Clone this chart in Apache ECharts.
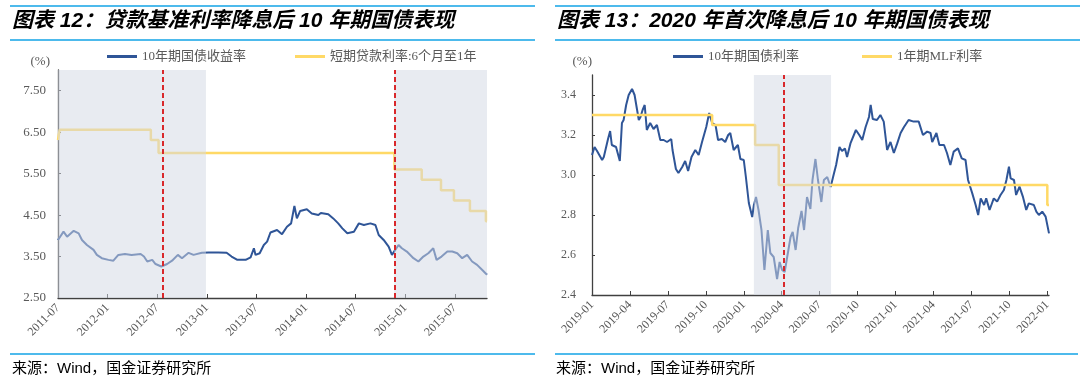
<!DOCTYPE html>
<html>
<head>
<meta charset="utf-8">
<script src="https://cdn.jsdelivr.net/npm/echarts@6/dist/echarts.min.js"></script>
<style>
  html, body { margin: 0; padding: 0; background: #fff; }
  #main { width: 1080px; height: 376px; }
</style>
</head>
<body>
<div id="main"></div>
<script>
// ==================== 数据：图表12 ====================
const leftTickLabels = ['2011-07', '2012-01', '2012-07', '2013-01', '2013-07', '2014-01', '2014-07', '2015-01', '2015-07']
const leftBondDates = [
  '2011-07-01', '2011-07-21', '2011-08-04', '2011-08-28', '2011-09-16', '2011-09-28', '2011-10-16', '2011-11-10', '2011-11-22', '2011-12-10',
  '2012-01-04', '2012-01-22', '2012-02-10', '2012-03-04', '2012-03-28', '2012-05-01', '2012-05-13', '2012-05-25', '2012-06-13', '2012-06-25',
  '2012-07-16', '2012-08-07', '2012-08-25', '2012-09-16', '2012-10-01', '2012-10-25', '2012-11-13', '2012-12-13', '2013-01-07', '2013-02-13',
  '2013-03-13', '2013-04-01', '2013-04-22', '2013-05-22', '2013-06-10', '2013-06-22', '2013-06-28', '2013-07-13', '2013-07-28', '2013-08-10',
  '2013-08-22', '2013-09-16', '2013-10-04', '2013-10-22', '2013-11-07', '2013-11-19', '2013-11-28', '2013-12-10', '2014-01-04', '2014-01-22',
  '2014-02-16', '2014-02-25', '2014-03-22', '2014-04-10', '2014-04-28', '2014-05-13', '2014-06-01', '2014-06-25', '2014-07-13', '2014-08-01',
  '2014-08-25', '2014-09-13', '2014-09-25', '2014-10-13', '2014-11-01', '2014-11-13', '2014-11-25', '2014-12-07', '2014-12-19', '2015-01-07',
  '2015-02-01', '2015-02-19', '2015-03-07', '2015-03-25', '2015-04-13', '2015-04-25', '2015-05-13', '2015-06-04', '2015-06-22', '2015-07-10',
  '2015-07-28', '2015-08-16', '2015-09-04', '2015-09-22', '2015-10-10', '2015-10-28',
]
const leftBondYield = [
  3.90, 4.10, 3.98, 4.12, 4.06, 3.90, 3.78, 3.66, 3.54, 3.46,
  3.42, 3.40, 3.54, 3.56, 3.54, 3.56, 3.50, 3.38, 3.42, 3.32,
  3.26, 3.32, 3.40, 3.54, 3.46, 3.59, 3.54, 3.59, 3.60, 3.60,
  3.59, 3.50, 3.42, 3.42, 3.48, 3.70, 3.54, 3.58, 3.78, 3.86,
  4.08, 4.14, 4.04, 4.22, 4.30, 4.72, 4.42, 4.60, 4.64, 4.54,
  4.50, 4.55, 4.52, 4.42, 4.30, 4.18, 4.06, 4.10, 4.30, 4.26,
  4.30, 4.26, 4.02, 3.90, 3.74, 3.54, 3.66, 3.78, 3.70, 3.62,
  3.46, 3.38, 3.50, 3.58, 3.70, 3.42, 3.50, 3.62, 3.62, 3.58,
  3.46, 3.54, 3.38, 3.30, 3.18, 3.06,
]
const leftLoanDates = ['2011-07-01', '2011-07-07', '2012-06-08', '2012-07-06', '2014-11-22', '2015-03-01', '2015-05-11', '2015-06-28', '2015-08-26', '2015-10-24', '2015-10-28']
const leftLoanRate = [6.31, 6.56, 6.31, 6.00, 5.60, 5.35, 5.10, 4.85, 4.60, 4.35, 4.35]
const leftShade = [['2011-07-01', '2012-12-28'], ['2014-11-21', '2015-10-28']]
const leftCuts = ['2012-07-22', '2014-11-25']
const leftEnd = '2015-10-28'

// ==================== 数据：图表13 ====================
const rightTickLabels = ['2019-01', '2019-04', '2019-07', '2019-10', '2020-01', '2020-04', '2020-07', '2020-10', '2021-01', '2021-04', '2021-07', '2021-10', '2022-01']
const rightBondDates = [
  '2019-01-01', '2019-01-07', '2019-01-13', '2019-01-25', '2019-01-29', '2019-02-09', '2019-02-14', '2019-02-18', '2019-02-28', '2019-03-07',
  '2019-03-12', '2019-03-16', '2019-03-22', '2019-03-28', '2019-04-06', '2019-04-12', '2019-04-18', '2019-04-22', '2019-04-26', '2019-05-01',
  '2019-05-06', '2019-05-11', '2019-05-19', '2019-05-27', '2019-06-05', '2019-06-13', '2019-06-21', '2019-06-29', '2019-07-09', '2019-07-12',
  '2019-07-20', '2019-07-26', '2019-08-05', '2019-08-12', '2019-08-19', '2019-08-27', '2019-09-06', '2019-09-14', '2019-09-22', '2019-10-02',
  '2019-10-09', '2019-10-16', '2019-10-24', '2019-10-30', '2019-11-09', '2019-11-17', '2019-11-24', '2019-11-29', '2019-12-07', '2019-12-17',
  '2019-12-23', '2020-01-01', '2020-01-06', '2020-01-13', '2020-01-21', '2020-01-25', '2020-01-30', '2020-02-06', '2020-02-13', '2020-02-20',
  '2020-02-28', '2020-03-04', '2020-03-12', '2020-03-20', '2020-03-26', '2020-04-02', '2020-04-08', '2020-04-14', '2020-04-22', '2020-04-27',
  '2020-05-04', '2020-05-10', '2020-05-18', '2020-05-24', '2020-06-01', '2020-06-09', '2020-06-14', '2020-06-21', '2020-06-27', '2020-07-05',
  '2020-07-11', '2020-07-19', '2020-07-27', '2020-08-04', '2020-08-10', '2020-08-18', '2020-08-24', '2020-08-31', '2020-09-06', '2020-09-14',
  '2020-09-27', '2020-10-05', '2020-10-12', '2020-10-20', '2020-10-28', '2020-11-02', '2020-11-07', '2020-11-17', '2020-11-25', '2020-12-03',
  '2020-12-11', '2020-12-19', '2020-12-27', '2021-01-05', '2021-01-13', '2021-01-21', '2021-02-02', '2021-02-14', '2021-02-26', '2021-03-06',
  '2021-03-16', '2021-03-24', '2021-03-28', '2021-04-08', '2021-04-15', '2021-04-26', '2021-05-03', '2021-05-11', '2021-05-19', '2021-05-29',
  '2021-06-08', '2021-06-17', '2021-06-23', '2021-07-03', '2021-07-11', '2021-07-17', '2021-07-23', '2021-07-31', '2021-08-06', '2021-08-14',
  '2021-08-24', '2021-09-02', '2021-09-10', '2021-09-18', '2021-09-24', '2021-09-30', '2021-10-04', '2021-10-12', '2021-10-17', '2021-10-25',
  '2021-11-03', '2021-11-11', '2021-11-17', '2021-11-29', '2021-12-05', '2021-12-11', '2021-12-19', '2021-12-27', '2022-01-05',
]
const rightBondYield = [
  3.10, 3.14, 3.12, 3.075, 3.09, 3.18, 3.22, 3.15, 3.14, 3.07,
  3.26, 3.275, 3.35, 3.40, 3.43, 3.40, 3.325, 3.275, 3.29, 3.325,
  3.35, 3.225, 3.26, 3.23, 3.25, 3.175, 3.175, 3.165, 3.18, 3.125,
  3.03, 3.01, 3.04, 3.07, 3.02, 3.09, 3.125, 3.10, 3.165, 3.24,
  3.31, 3.26, 3.25, 3.175, 3.18, 3.165, 3.20, 3.21, 3.125, 3.15,
  3.08, 3.075, 2.99, 2.86, 2.79, 2.85, 2.89, 2.825, 2.725, 2.525,
  2.725, 2.61, 2.59, 2.48, 2.565, 2.525, 2.515, 2.59, 2.69, 2.715,
  2.625, 2.735, 2.82, 2.725, 2.89, 2.83, 2.975, 3.08, 2.975, 2.865,
  2.975, 2.99, 2.94, 3.00, 3.05, 3.14, 3.12, 3.133, 3.09, 3.158,
  3.225, 3.20, 3.175, 3.24, 3.29, 3.35, 3.28, 3.275, 3.30, 3.267,
  3.125, 3.165, 3.11, 3.158, 3.21, 3.24, 3.275, 3.267, 3.267, 3.20,
  3.217, 3.21, 3.165, 3.21, 3.15, 3.15, 3.11, 3.05, 3.117, 3.133,
  3.083, 3.075, 2.975, 2.908, 2.85, 2.80, 2.883, 2.85, 2.883, 2.825,
  2.883, 2.867, 2.90, 2.925, 2.975, 3.042, 2.983, 2.975, 2.90, 2.942,
  2.892, 2.825, 2.858, 2.85, 2.817, 2.80, 2.817, 2.792, 2.708,
]
const rightMlfDates = ['2019-01-01', '2019-10-16', '2020-01-28', '2020-03-24', '2022-01-01', '2022-01-05']
const rightMlfRate = [3.30, 3.25, 3.15, 2.95, 2.85, 2.85]
const rightShade = [['2020-01-25', '2020-07-28']]
const rightCuts = ['2020-04-07']
const rightEnd = '2022-01-05'

// ==================== 工具 ====================
// 日期 -> 距起始月份的月数（横轴按月份等距）
const toMonths = (s, y0, m0) => {
  const [y, m, d] = s.split('-').map(Number)
  return (y - y0) * 12 + (m - m0) + (d - 1) / 30
}
const lx = (s) => toMonths(s, 2011, 7)
const rx = (s) => toMonths(s, 2019, 1)
const pairs = (dates, vals, fx) => dates.map((d, i) => [fx(d), vals[i]])

const SERIF = "'Liberation Serif', 'Noto Sans CJK SC', serif"
const SANS = "'Liberation Sans', 'Noto Sans CJK SC', sans-serif"
const GRAY = '#595959'
const AXIS = '#404040'
const BLUE = '#2f5597'
const GOLD = '#ffd966'
const SHADE = 'rgba(211, 217, 228, 0.52)'
const RED = '#d9282b'
const RULE = '#12a3e6'

const tickFormatter = (labels, step) => (v) => {
  const k = v / step
  return Math.abs(k - Math.round(k)) < 1e-6 ? labels[Math.round(k)] || '' : ''
}

const xAxisBase = (max, step, labels, gridIndex) => ({
  type: 'value',
  gridIndex,
  min: 0,
  max,
  interval: step,
  splitLine: { show: false },
  axisLine: { onZero: false, lineStyle: { color: AXIS, width: 1.3 } },
  axisTick: { inside: true, length: 4, lineStyle: { color: AXIS } },
  axisLabel: {
    rotate: 45,
    margin: 8,
    color: GRAY,
    fontFamily: SERIF,
    fontSize: 12,
    showMaxLabel: false,
    formatter: tickFormatter(labels, step),
  },
})

const yAxisBase = (min, max, step, digits, gridIndex, nameGap, namePad, labelSize, labelMargin) => ({
  type: 'value',
  gridIndex,
  min,
  max,
  interval: step,
  name: '(%)',
  nameLocation: 'end',
  nameGap,
  nameTextStyle: { color: GRAY, fontFamily: SERIF, fontSize: 13, align: 'right', padding: [0, namePad, 0, 0] },
  splitLine: { show: false },
  axisLine: { show: true, lineStyle: { color: AXIS, width: 1.3 } },
  axisTick: { show: true, inside: true, length: 3, lineStyle: { color: AXIS } },
  axisLabel: {
    color: GRAY,
    fontFamily: SERIF,
    fontSize: labelSize,
    margin: labelMargin,
    showMaxLabel: false,
    formatter: (v) => v.toFixed(digits),
  },
})

const legendItem = (name, left) => ({
  data: [name],
  left,
  top: 50,
  padding: 0,
  icon: 'rect',
  itemWidth: 30,
  itemHeight: 3,
  selectedMode: false,
  textStyle: { color: GRAY, fontFamily: SERIF, fontSize: 13 },
})

const markers = (shade, cuts, fx) => ({
  markArea: {
    silent: true,
    z: 10,
    itemStyle: { color: SHADE },
    data: shade.map(([a, b]) => [{ xAxis: fx(a) }, { xAxis: fx(b) }]),
  },
  markLine: {
    silent: true,
    z: 12,
    symbol: ['none', 'none'],
    label: { show: false },
    lineStyle: { color: RED, type: [5, 3], width: 2 },
    data: cuts.map((d) => ({ xAxis: fx(d) })),
  },
})

const titleStyle = { color: '#000', fontFamily: SANS, fontSize: 21, fontWeight: 'bold', fontStyle: 'italic' }

const chart = echarts.init(document.getElementById('main'))

chart.setOption({
  animation: false,
  backgroundColor: '#fff',
  title: [
    { text: '图表 12：贷款基准利率降息后 10 年期国债表现', left: 12, top: 11, padding: 0, textStyle: titleStyle },
    { text: '图表 13：2020 年首次降息后 10 年期国债表现', left: 557, top: 11, padding: 0, textStyle: titleStyle },
  ],
  legend: [
    legendItem('10年期国债收益率', 107),
    legendItem('短期贷款利率:6个月至1年', 295),
    legendItem('10年期国债利率', 673),
    legendItem('1年期MLF利率', 862),
  ],
  grid: [
    { left: 58, right: 593, top: 70, bottom: 78 },
    { left: 592, right: 31, top: 75, bottom: 81 },
  ],
  xAxis: [
    xAxisBase(lx(leftEnd), 6, leftTickLabels, 0),
    xAxisBase(rx(rightEnd), 3, rightTickLabels, 1),
  ],
  yAxis: [
    yAxisBase(2.5, 8, 1, 2, 0, 2, 8, 13, 12),
    yAxisBase(2.4, 3.5, 0.2, 1, 1, 7, 0, 12, 16),
  ],
  series: [
    {
      name: '10年期国债收益率',
      type: 'line',
      xAxisIndex: 0,
      yAxisIndex: 0,
      showSymbol: false,
      z: 2,
      lineStyle: { color: BLUE, width: 2 },
      itemStyle: { color: BLUE },
      data: pairs(leftBondDates, leftBondYield, lx),
      ...markers(leftShade, leftCuts, lx),
    },
    {
      name: '短期贷款利率:6个月至1年',
      type: 'line',
      xAxisIndex: 0,
      yAxisIndex: 0,
      step: 'end',
      showSymbol: false,
      z: 3,
      lineStyle: { color: GOLD, width: 2.5 },
      itemStyle: { color: GOLD },
      data: pairs(leftLoanDates, leftLoanRate, lx),
    },
    {
      name: '10年期国债利率',
      type: 'line',
      xAxisIndex: 1,
      yAxisIndex: 1,
      showSymbol: false,
      z: 2,
      lineStyle: { color: BLUE, width: 2 },
      itemStyle: { color: BLUE },
      data: pairs(rightBondDates, rightBondYield, rx),
      ...markers(rightShade, rightCuts, rx),
    },
    {
      name: '1年期MLF利率',
      type: 'line',
      xAxisIndex: 1,
      yAxisIndex: 1,
      step: 'end',
      showSymbol: false,
      z: 3,
      lineStyle: { color: GOLD, width: 2.5 },
      itemStyle: { color: GOLD },
      data: pairs(rightMlfDates, rightMlfRate, rx),
    },
  ],
  graphic: [
    { type: 'line', shape: { x1: 10, y1: 6, x2: 535, y2: 6 }, style: { stroke: RULE, lineWidth: 1.5 } },
    { type: 'line', shape: { x1: 10, y1: 40, x2: 535, y2: 40 }, style: { stroke: RULE, lineWidth: 1.5 } },
    { type: 'line', shape: { x1: 10, y1: 354, x2: 535, y2: 354 }, style: { stroke: RULE, lineWidth: 1.5 } },
    { type: 'line', shape: { x1: 555, y1: 6, x2: 1080, y2: 6 }, style: { stroke: RULE, lineWidth: 1.5 } },
    { type: 'line', shape: { x1: 555, y1: 40, x2: 1080, y2: 40 }, style: { stroke: RULE, lineWidth: 1.5 } },
    { type: 'line', shape: { x1: 555, y1: 354, x2: 1078, y2: 354 }, style: { stroke: RULE, lineWidth: 1.5 } },
    { type: 'text', x: 12, y: 369, style: { text: '来源：Wind，国金证券研究所', font: `15px ${SANS}`, fill: '#000', verticalAlign: 'middle' } },
    { type: 'text', x: 556, y: 369, style: { text: '来源：Wind，国金证券研究所', font: `15px ${SANS}`, fill: '#000', verticalAlign: 'middle' } },
  ],
})

window.addEventListener('resize', () => chart.resize())
</script>
</body>
</html>
